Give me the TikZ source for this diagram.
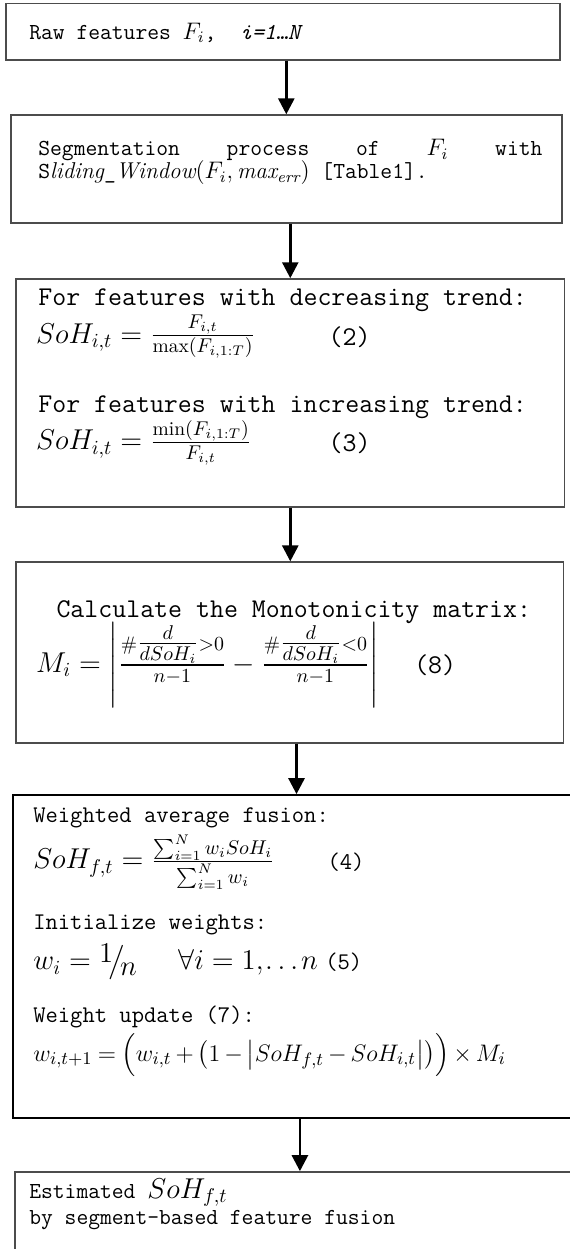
\documentclass[tikz,border=0pt]{standalone}
\usepackage{amsmath}
\usepackage{fontspec}
\usetikzlibrary{arrows.meta}
\newcommand{\eqfont}{\fontsize{14}{17}\selectfont}
\tikzset{
  stage/.style={draw=black!70, line width=0.75pt, inner sep=0pt},
  txt/.style={anchor=west, inner sep=0pt, font=\ttfamily\fontsize{11.5}{13}\selectfont},
  midtxt/.style={txt, font=\ttfamily\fontsize{12}{14}\selectfont},
  bigtxt/.style={txt, font=\ttfamily\fontsize{13.6}{16}\selectfont},
  eq/.style={anchor=west, inner sep=0pt, font=\eqfont},
  flow/.style={-{Triangle[width=8pt,length=8pt]}, line width=1.4pt},
}

\begin{document}
\begin{tikzpicture}
    \useasboundingbox (0,0) rectangle (10.04,-22.03);
    % stages
    \node[stage, minimum width=9.77cm, minimum height=0.99cm] (raw) at (4.99,-0.56) {};
    \node[stage, minimum width=9.72cm, minimum height=1.90cm] (seg) at (5.05,-2.98) {};
    \node[stage, minimum width=9.67cm, minimum height=4.02cm] (trend) at (5.12,-6.93) {};
    \node[stage, minimum width=9.65cm, minimum height=3.19cm] (mono) at (5.11,-11.51) {};
    \node[stage, draw=black, minimum width=10.00cm, minimum height=5.70cm] (fuse) at (5.23,-16.87) {};
    \node[stage, minimum width=10.05cm, minimum height=2.26cm] (est) at (5.29,-21.80) {};
    % texts
    \node[txt] (rawtxt) at (0.51,-0.58) {Raw features $F_i$,~~\textit{i=1…N}};
    \node[txt] (segA) at (0.67,-2.65) {\makebox[8.89cm][l]{Segmentation\hfill process\hfill of\hfill $F_i$\hfill with}};
    \node[txt] (segB) at (0.67,-3.05) {S$\mathit{liding\_Window}(F_i,\mathit{max}_{\mathit{err}})$ [Table1].};
    \node[bigtxt] (decA) at (0.67,-5.29) {For features with decreasing trend:};
    \node[eq] (decEq) at (0.63,-5.94) {$SoH_{i,t} = \frac{F_{i,t}}{\max(F_{i,1:T})}$};
    \node[bigtxt] (decNo) at (5.79,-5.94) {(2)};
    \node[bigtxt] (incA) at (0.67,-7.18) {For features with increasing trend:};
    \node[eq] (incEq) at (0.63,-7.81) {$SoH_{i,t} = \frac{\min(F_{i,1:T})}{F_{i,t}}$};
    \node[bigtxt] (incNo) at (5.79,-7.81) {(3)};
    \node[bigtxt] (monoA) at (0.99,-10.79) {Calculate the Monotonicity matrix:};
    \node[eq] (monoEq) at (0.63,-11.73) {$M_i = \left|\frac{\#\tfrac{d}{dSoH_i}>0}{n-1} - \frac{\#\tfrac{d}{dSoH_i}<0}{n-1}\right|$};
    \node[bigtxt] (monoNo) at (7.30,-11.73) {(8)};
    \node[midtxt] (fuseA) at (0.58,-14.43) {Weighted average fusion:};
    \node[eq] (fuseEq) at (0.58,-15.20) {$SoH_{f,t} = \frac{\sum_{i=1}^{N} w_i SoH_i}{\sum_{i=1}^{N} w_i}$};
    \node[midtxt] (fuseNo) at (5.77,-15.20) {(4)};
    \node[midtxt] (initA) at (0.58,-16.32) {Initialize weights:};
    \node[eq] (initEq) at (0.58,-16.97) {$w_i = \raisebox{0.6ex}{$1$}\!\big/\!\raisebox{-0.5ex}{$n$}$};
    \node[eq] (initAll) at (3.14,-16.97) {$\forall i = 1,\mkern-2mu\ldots\mkern-1mu n$};
    \node[midtxt] (initNo) at (5.73,-16.97) {(5)};
    \node[midtxt] (updA) at (0.58,-17.94) {Weight update (7):};
    \node[eq, font=\fontsize{13.2}{15}\selectfont] (updEq) at (0.58,-18.61) {\medmuskip=3mu\thickmuskip=4mu$w_{i,t+1} = \Bigl(w_{i,t} + \bigl(1 - \bigl|SoH_{f,t} - SoH_{i,t}\bigr|\bigr)\Bigr) \times M_i$};
    \node[txt] (estA) at (0.51,-21.04) {Estimated {\eqfont$SoH_{f,t}$}};
    \node[txt] (estB) at (0.51,-21.52) {by segment-based feature fusion};
    % flow
    \draw[flow] (raw.south -| seg.north) -- (seg.north);
    \draw[flow] (seg.south -| trend.north) -- (trend.north);
    \draw[flow] (trend.south) -- (mono.north -| trend.south);
    \draw[flow] (mono.south -| fuse.north) -- (fuse.north);
    \draw[flow] (fuse.south -| est.north) -- (est.north);
\end{tikzpicture}
\end{document}
